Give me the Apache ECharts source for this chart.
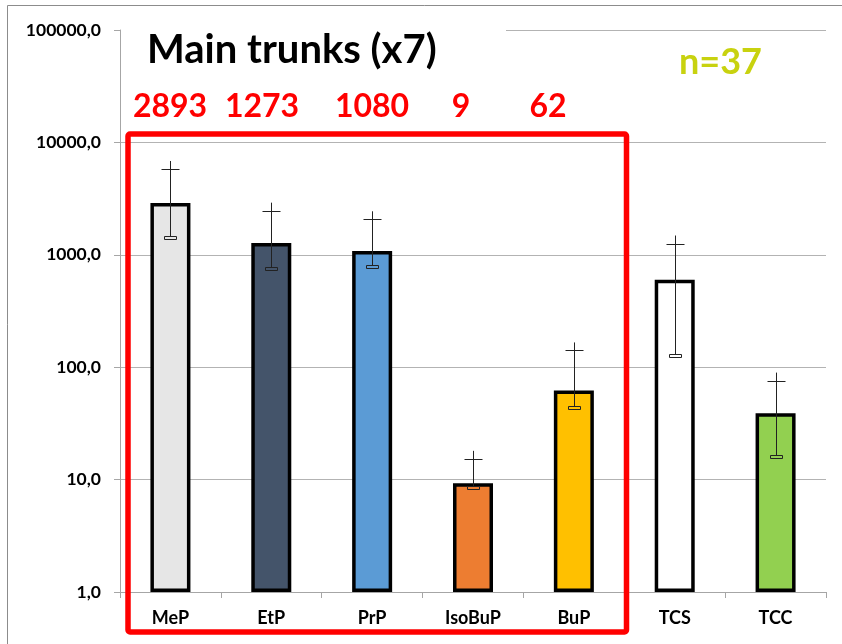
<!DOCTYPE html>
<html><head><meta charset="utf-8">
<script src="https://cdn.jsdelivr.net/npm/echarts@6/dist/echarts.min.js"></script>
<style>html,body{margin:0;padding:0;background:#fff}#c{width:842px;height:644px}</style>
</head><body><div id="c"></div>
<script>
// ---- data ----
const categories = ['MeP', 'EtP', 'PrP', 'IsoBuP', 'BuP', 'TCS', 'TCC'];
const means = [2893, 1273, 1080, 9.3, 62, 600, 39];
const errLow = [1410, 752, 784, 8.4, 43, 126, 15.8];
const errHigh = [5800, 2470, 2070, 15.3, 141, 1260, 76];
const redLabels = ['2893', '1273', '1080', '9', '62'];
const titleText = 'Main trunks (x7)';
const nText = 'n=37';

// ---- styles / layout ----
const barColors = ['#e6e6e6', '#44546a', '#5b9bd5', '#ed7d31', '#ffc000', '#ffffff', '#92d050'];
const redLabelX = [170, 262, 372, 461, 548];
const FONT = 'Lato, "Open Sans", sans-serif';

const chart = echarts.init(document.getElementById('c'), null, {renderer: 'canvas'});

const errData = categories.map((c, i) => [i, errLow[i], errHigh[i]]);

const graphics = [
  // outer frame (left & top edges)
  {type: 'polyline', shape: {points: [[7.5, 644], [7.5, 5.5], [842, 5.5]]}, style: {stroke: '#8c8c8c', lineWidth: 1, fill: null}, z: 0},
  // white box behind title (covers top gridline)
  {type: 'rect', shape: {x: 121, y: 22, width: 385, height: 16}, style: {fill: '#fff'}, z: 5},
  // red frame
  {type: 'rect', shape: {x: 128, y: 134, width: 498.5, height: 498, r: 2}, style: {stroke: '#ff0000', lineWidth: 5.5, fill: null}, z: 20},
  {type: 'text', left: 679, top: 44, style: {text: nText, fill: '#c8d20f', font: 'bold 36px ' + FONT}, z: 20}
];
redLabels.forEach((t, i) => {
  graphics.push({type: 'text', x: redLabelX[i], y: 107, style: {text: t, fill: '#ff0000', font: 'bold 32px ' + FONT, align: 'center', verticalAlign: 'middle'}, z: 20});
});

chart.setOption({
  animation: false,
  backgroundColor: '#fff',
  title: {
    text: titleText, left: 147, top: 30, padding: 0,
    textStyle: {fontFamily: FONT, fontWeight: 'bold', fontSize: 40, color: '#000'},
    z: 10
  },
  grid: {left: 120, right: 16, top: 30, bottom: 52},
  xAxis: {
    type: 'category', data: categories,
    axisLine: {lineStyle: {color: '#a6a6a6', width: 1}},
    axisTick: {show: true, length: 6, interval: 0, lineStyle: {color: '#a6a6a6'}},
    axisLabel: {fontFamily: FONT, fontWeight: 'bold', fontSize: 18, color: '#000', margin: 17, interval: 0},
    splitLine: {show: false}
  },
  yAxis: {
    type: 'log', logBase: 10, min: 1, max: 100000,
    axisLine: {show: true, lineStyle: {color: '#a6a6a6', width: 1}},
    axisTick: {show: true, length: 6, lineStyle: {color: '#a6a6a6'}},
    axisLabel: {
      fontFamily: FONT, fontWeight: 'bold', fontSize: 17.5, color: '#000', margin: 19,
      formatter: v => (Math.round(v * 10) / 10).toFixed(1).replace('.', ',')
    },
    splitLine: {show: true, lineStyle: {color: '#b3b3b3', width: 1}},
    minorTick: {show: false}
  },
  graphic: graphics,
  series: [
    {
      type: 'bar', barWidth: 40,
      data: means.map((v, i) => ({value: v, itemStyle: {color: barColors[i]}})),
      itemStyle: {borderColor: '#000', borderWidth: 3.5},
      z: 2
    },
    {
      type: 'custom',
      data: errData,
      z: 3,
      renderItem: function (params, api) {
        const i = api.value(0);
        const lo = api.coord([i, api.value(1)]);
        const hi = api.coord([i, api.value(2)]);
        const x = Math.round(lo[0]) + 0.5;
        const col = barColors[i];
        return {
          type: 'group',
          children: [
            {type: 'line', shape: {x1: x, y1: lo[1], x2: x, y2: hi[1] - 8}, style: {stroke: '#222', lineWidth: 1}},
            {type: 'line', shape: {x1: x - 9, y1: Math.round(hi[1]) + 0.5, x2: x + 9, y2: Math.round(hi[1]) + 0.5}, style: {stroke: '#222', lineWidth: 1}},
            {type: 'rect', shape: {x: x - 6, y: Math.round(lo[1]) - 1.5, width: 12, height: 3}, style: {stroke: '#222', lineWidth: 1, fill: col}}
          ]
        };
      }
    }
  ]
});
</script>
</body></html>
